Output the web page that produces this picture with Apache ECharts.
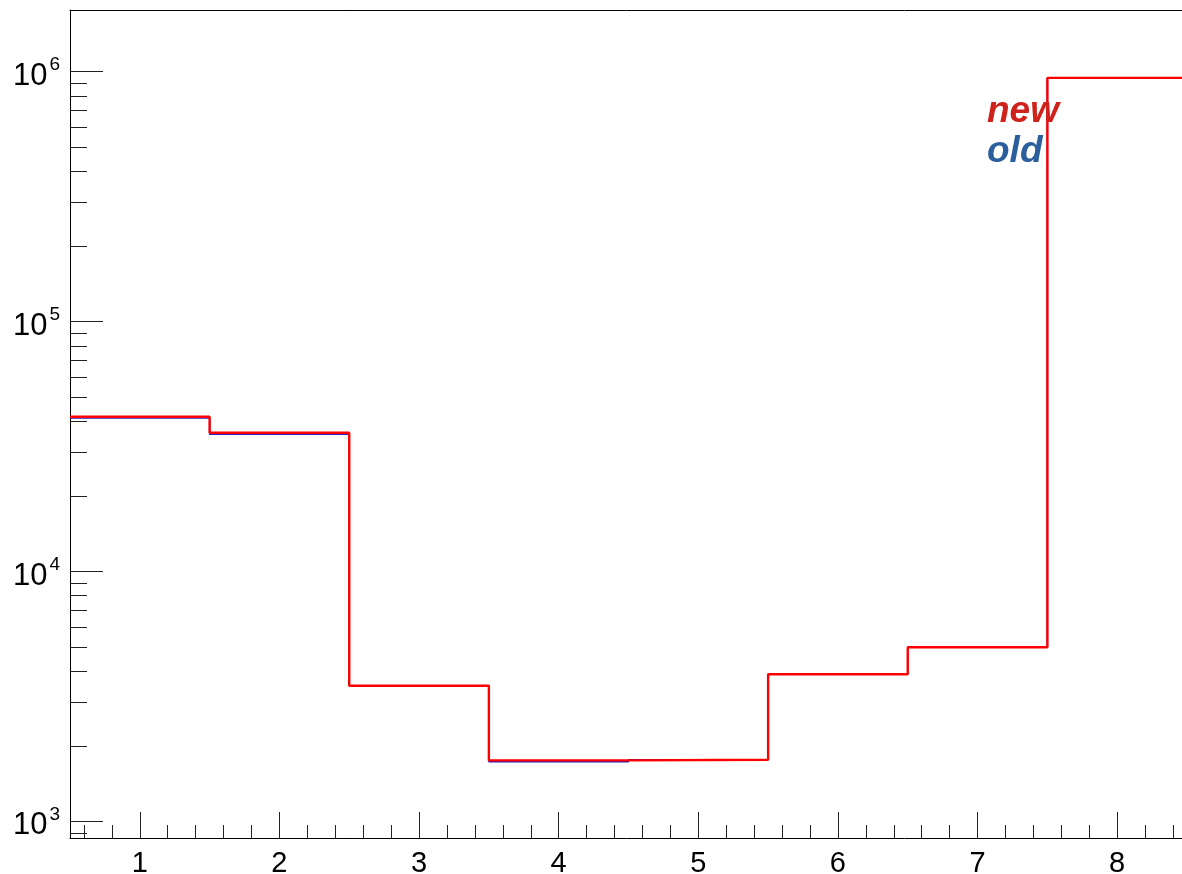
<!DOCTYPE html>
<html>
<head>
<meta charset="utf-8">
<script src="https://cdn.jsdelivr.net/npm/echarts@6/dist/echarts.min.js"></script>
<style>
html,body{margin:0;padding:0;background:#fff;}
#chart{width:1182px;height:874px;}
</style>
</head>
<body>
<div id="chart"></div>
<script>
// ---- data ----
const bins = [1, 2, 3, 4, 5, 6, 7, 8];
const binWidth = 1;
const newCounts = [41600, 35900, 3490, 1755, 1765, 3880, 4980, 944000];
const oldCounts = [41100, 35450, 3490, 1732, 1765, 3880, 4980, 944000];
const seriesNames = ['new', 'old'];
const xMajorTicks = [1, 2, 3, 4, 5, 6, 7, 8];
const yMajorTicks = [1e3, 1e4, 1e5, 1e6];
const xRange = [0.5, 8.5];
const yRange = [858.5, 1.765e6];

// minor tick positions (multiples of 0.2 on x, 2..9 x 10^n on y)
const xMinorTicks = [];
for (let k = Math.ceil(xRange[0] / 0.2); k * 0.2 <= xRange[1] + 1e-9; k++) {
  const v = Math.round(k * 2) / 10;
  if (Math.abs(v - Math.round(v)) > 1e-9) xMinorTicks.push(v);
}
const yMinorTicks = [];
for (let d = 2; d <= 6; d++) {
  for (let k = 2; k <= 9; k++) {
    const v = k * Math.pow(10, d);
    if (v >= yRange[0] && v <= yRange[1]) yMinorTicks.push(v);
  }
}

function histPoints(counts) {
  const pts = bins.map((b, i) => [b - binWidth / 2, counts[i]]);
  pts.push([bins[bins.length - 1] + binWidth / 2, counts[counts.length - 1]]);
  return pts;
}

const chart = echarts.init(document.getElementById('chart'), null, {renderer: 'canvas'});
const FONT = '"Liberation Sans", Arial, Helvetica, sans-serif';

const option = {
  animation: false,
  backgroundColor: '#ffffff',
  grid: {left: 70, top: 10, width: 1117, height: 828, containLabel: false, outerBoundsMode: 'none'},
  legend: {
    show: true,
    orient: 'vertical',
    left: 977,
    top: 88,
    itemGap: 3,
    icon: 'none',
    itemWidth: 0,
    itemHeight: 0,
    selectedMode: false,
    textStyle: {fontFamily: FONT, fontSize: 37, fontWeight: 'bold', fontStyle: 'italic'},
    data: [
      {name: seriesNames[0], textStyle: {color: '#d0221c'}},
      {name: seriesNames[1], textStyle: {color: '#2a5e9c'}}
    ]
  },
  xAxis: [
    {
      type: 'value', min: xRange[0], max: xRange[1], position: 'bottom',
      axisLine: {show: true, onZero: false, lineStyle: {color: '#000', width: 1}},
      axisTick: {show: true, inside: true, length: 26, customValues: xMajorTicks, lineStyle: {color: '#222', width: 1}},
      axisLabel: {show: true, customValues: xMajorTicks, margin: 11, color: '#000', fontFamily: FONT, fontSize: 29},
      splitLine: {show: false}
    },
    {
      type: 'value', min: xRange[0], max: xRange[1], position: 'bottom',
      axisLine: {show: false, onZero: false},
      axisTick: {show: true, inside: true, length: 13, customValues: xMinorTicks, lineStyle: {color: '#222', width: 1}},
      axisLabel: {show: false},
      splitLine: {show: false}
    },
    {
      type: 'value', min: xRange[0], max: xRange[1], position: 'top',
      axisLine: {show: true, onZero: false, lineStyle: {color: '#000', width: 1}},
      axisTick: {show: false},
      axisLabel: {show: false},
      splitLine: {show: false}
    }
  ],
  yAxis: [
    {
      type: 'log', logBase: 10, min: yRange[0], max: yRange[1], position: 'left',
      axisLine: {show: true, onZero: false, lineStyle: {color: '#000', width: 1}},
      axisTick: {show: true, inside: true, length: 33, customValues: yMajorTicks, lineStyle: {color: '#222', width: 1}},
      axisLabel: {
        show: true, customValues: yMajorTicks, margin: 10, color: '#000', fontFamily: FONT,
        padding: [4, 0, 0, 0],
        formatter: function (v) {
          const e = Math.round(Math.log10(v));
          return '{b|10}{s|' + e + '}';
        },
        rich: {
          b: {fontFamily: FONT, fontSize: 31, color: '#000', verticalAlign: 'bottom'},
          s: {fontFamily: FONT, fontSize: 19, color: '#000', verticalAlign: 'bottom', padding: [0, 0, 17, 2]}
        }
      },
      splitLine: {show: false}
    },
    {
      type: 'log', logBase: 10, min: yRange[0], max: yRange[1], position: 'left',
      axisLine: {show: false, onZero: false},
      axisTick: {show: true, inside: true, length: 17, customValues: yMinorTicks, lineStyle: {color: '#222', width: 1}},
      axisLabel: {show: false},
      splitLine: {show: false}
    }
  ],
  series: [
    {
      name: seriesNames[1], type: 'line', step: 'end', xAxisIndex: 0, yAxisIndex: 0,
      data: histPoints(oldCounts), symbol: 'none', silent: true,
      lineStyle: {color: '#2020c0', width: 1.5}, itemStyle: {color: '#2a5e9c'}, z: 2
    },
    {
      name: seriesNames[0], type: 'line', step: 'end', xAxisIndex: 0, yAxisIndex: 0,
      data: histPoints(newCounts), symbol: 'none', silent: true,
      lineStyle: {color: '#ff0000', width: 2.4}, itemStyle: {color: '#d0221c'}, z: 3
    }
  ]
};
chart.setOption(option);
</script>
</body>
</html>
